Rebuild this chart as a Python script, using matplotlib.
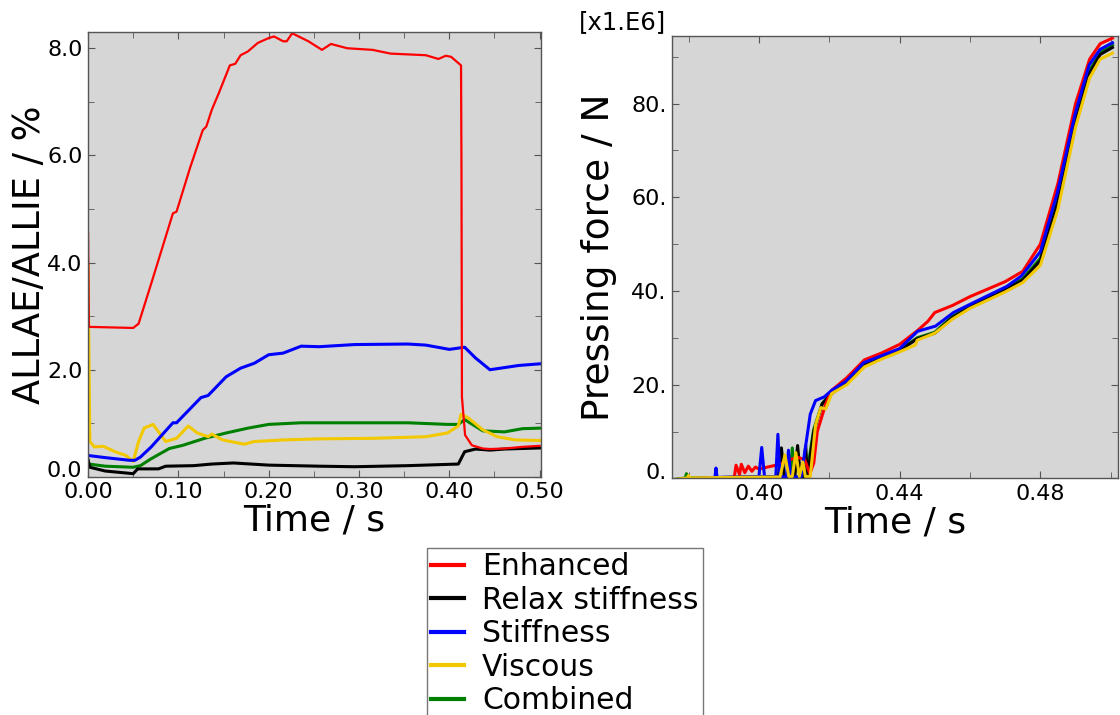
import numpy as np
import matplotlib
matplotlib.use("Agg")
import matplotlib.pyplot as plt
import matplotlib.transforms as mtransforms
from matplotlib.ticker import MultipleLocator, FormatStrFormatter

# ---- left panel: ALLAE/ALLIE (%) vs time ----
enh_t = [0.0, 0.001, 0.05, 0.056, 0.07, 0.094, 0.098, 0.113, 0.127, 0.131, 0.137, 0.145,
         0.157, 0.163, 0.169, 0.177, 0.188, 0.200, 0.206, 0.216, 0.220, 0.226, 0.244, 0.259,
         0.269, 0.287, 0.315, 0.335, 0.374, 0.388, 0.396, 0.402, 0.413, 0.4135, 0.414, 0.4175,
         0.425, 0.437, 0.445, 0.461, 0.481, 0.50]
enh_v = [4.55, 2.80, 2.78, 2.86, 3.61, 4.92, 4.95, 5.77, 6.47, 6.54, 6.85, 7.17,
         7.68, 7.71, 7.87, 7.94, 8.10, 8.19, 8.22, 8.13, 8.13, 8.28, 8.13, 7.97,
         8.08, 8.00, 7.97, 7.90, 7.87, 7.80, 7.86, 7.84, 7.68, 5.70, 1.49, 0.78,
         0.59, 0.53, 0.52, 0.53, 0.56, 0.58]

rel_t = [0.0, 0.002, 0.019, 0.05, 0.055, 0.078, 0.086, 0.117, 0.137, 0.161, 0.20, 0.256,
         0.295, 0.354, 0.41, 0.417, 0.429, 0.445, 0.461, 0.50]
rel_v = [0.32, 0.18, 0.11, 0.06, 0.15, 0.15, 0.20, 0.21, 0.24, 0.26, 0.22, 0.20,
         0.19, 0.21, 0.24, 0.47, 0.52, 0.50, 0.52, 0.54]

stf_t = [0.0, 0.019, 0.046, 0.052, 0.058, 0.07, 0.094, 0.098, 0.125, 0.133, 0.153, 0.169,
         0.184, 0.20, 0.216, 0.236, 0.256, 0.295, 0.354, 0.374, 0.40, 0.417, 0.429, 0.445,
         0.457, 0.477, 0.50]
stf_v = [0.40, 0.36, 0.31, 0.31, 0.37, 0.56, 1.01, 1.01, 1.48, 1.52, 1.87, 2.03,
         2.12, 2.28, 2.31, 2.44, 2.43, 2.47, 2.48, 2.46, 2.38, 2.42, 2.22, 2.00,
         2.03, 2.08, 2.11]

vis_t = [0.0, 0.002, 0.007, 0.017, 0.03, 0.042, 0.05, 0.056, 0.062, 0.072, 0.086, 0.098,
         0.111, 0.121, 0.133, 0.137, 0.149, 0.173, 0.184, 0.216, 0.256, 0.315, 0.374, 0.398,
         0.41, 0.413, 0.421, 0.437, 0.453, 0.473, 0.50]
vis_v = [3.95, 0.66, 0.56, 0.57, 0.47, 0.40, 0.29, 0.66, 0.91, 0.98, 0.66, 0.72,
         0.95, 0.82, 0.75, 0.80, 0.69, 0.61, 0.66, 0.69, 0.71, 0.72, 0.75, 0.82,
         0.95, 1.17, 1.10, 0.88, 0.75, 0.69, 0.68]

com_t = [0.0, 0.001, 0.019, 0.05, 0.058, 0.07, 0.09, 0.105, 0.129, 0.153, 0.177, 0.20,
         0.236, 0.295, 0.354, 0.398, 0.41, 0.417, 0.437, 0.461, 0.481, 0.50]
com_v = [0.30, 0.24, 0.20, 0.18, 0.21, 0.34, 0.53, 0.59, 0.72, 0.82, 0.91, 0.98,
         1.01, 1.01, 1.01, 0.98, 0.98, 1.07, 0.86, 0.84, 0.90, 0.91]

# ---- right panel: pressing force (x1.E6 N) vs time ----
f_enh_t = [0.3755, 0.385, 0.393, 0.3935, 0.3945, 0.395, 0.396, 0.397, 0.398, 0.399, 0.400,
           0.403, 0.406, 0.409, 0.411, 0.413, 0.4145, 0.4156, 0.4166, 0.419, 0.4207, 0.425,
           0.430, 0.435, 0.440, 0.445, 0.448, 0.450, 0.455, 0.460, 0.470, 0.475, 0.480,
           0.485, 0.490, 0.494, 0.497, 0.5005]
f_enh_v = [-0.3, 0.1, 0.2, 2.8, 0.8, 3.0, 1.2, 2.6, 1.5, 2.4, 2.0,
           2.5, 3.0, 4.0, 4.5, 4.0, 1.0, 3.3, 10.0, 15.9, 18.8, 21.5,
           25.3, 26.8, 28.6, 31.5, 33.5, 35.4, 36.9, 38.8, 42.0, 44.2, 50.0,
           63.0, 80.0, 89.5, 92.8, 94.0]

f_rel_t = [0.3755, 0.390, 0.4055, 0.4064, 0.4072, 0.4102, 0.411, 0.4118, 0.4125, 0.4133,
           0.4138, 0.4156, 0.418, 0.4207, 0.425, 0.430, 0.435, 0.440, 0.445, 0.450, 0.455,
           0.460, 0.470, 0.475, 0.480, 0.485, 0.490, 0.494, 0.497, 0.5005]
f_rel_v = [-0.3, 0.2, 0.3, 6.5, 0.3, 0.3, 7.0, 0.3, 0.3, 7.0,
           0.4, 10.0, 15.9, 18.1, 20.5, 24.2, 25.8, 27.3, 29.8, 31.0, 34.3,
           36.6, 40.2, 42.3, 46.5, 59.0, 76.5, 86.5, 90.5, 92.0]

f_stf_t = [0.3755, 0.3875, 0.3878, 0.3881, 0.400, 0.4008, 0.4016, 0.4048, 0.4054, 0.406,
           0.4078, 0.4084, 0.409, 0.412, 0.4146, 0.4161, 0.4186, 0.4207, 0.4247, 0.4298,
           0.4349, 0.440, 0.4451, 0.4502, 0.4553, 0.4604, 0.4705, 0.4746, 0.4766, 0.480,
           0.4848, 0.4899, 0.4939, 0.497, 0.5005]
f_stf_v = [-0.3, 0.2, 2.2, 0.2, 0.3, 6.6, 0.3, 0.3, 9.4, 0.3,
           0.3, 6.0, 0.3, 0.3, 13.7, 16.6, 17.4, 18.8, 20.7, 24.7,
           26.2, 27.7, 31.4, 32.5, 35.4, 37.3, 41.0, 43.2, 45.1, 48.4,
           60.9, 77.9, 88.3, 91.6, 93.0]

f_vis_t = [0.3755, 0.3797, 0.380, 0.3803, 0.406, 0.4074, 0.4085, 0.4095, 0.4105, 0.4115,
           0.4125, 0.4132, 0.4146, 0.4161, 0.4176, 0.419, 0.4207, 0.425, 0.430, 0.435,
           0.440, 0.4445, 0.445, 0.450, 0.455, 0.460, 0.470, 0.475, 0.480, 0.485, 0.490,
           0.494, 0.497, 0.5005]
f_vis_v = [-0.3, 0.1, 0.6, 0.1, 0.3, 5.0, 0.4, 0.4, 5.5, 0.4,
           3.5, 0.4, 0.4, 11.4, 15.1, 14.8, 18.1, 20.0, 23.8, 25.5,
           27.0, 28.5, 29.5, 31.0, 34.0, 36.3, 39.8, 41.8, 45.5, 57.5, 75.0,
           85.5, 89.5, 90.8]

f_com_t = [0.3755, 0.3791, 0.3794, 0.3797, 0.405, 0.4089, 0.4095, 0.4101, 0.4135, 0.4156,
           0.418, 0.4207, 0.425, 0.430, 0.435, 0.440, 0.445, 0.450, 0.455, 0.460, 0.470,
           0.475, 0.480, 0.485, 0.490, 0.494, 0.497, 0.5005]
f_com_v = [-0.3, 0.1, 1.0, 0.1, 0.3, 0.3, 6.5, 0.3, 0.4, 10.5,
           16.0, 18.3, 20.6, 24.3, 25.9, 27.4, 30.0, 31.2, 34.6, 36.8, 40.5,
           42.6, 47.0, 59.5, 77.0, 87.0, 91.0, 92.5]

labels = ["Enhanced", "Relax stiffness", "Stiffness", "Viscous", "Combined"]
colors = ["#ff0000", "#000000", "#0000ff", "#f2c800", "#008000"]

fig = plt.figure(figsize=(11.2, 7.15), dpi=100)
ax1 = fig.add_axes([0.0786, 0.333, 0.4044, 0.622])
ax2 = fig.add_axes([0.600, 0.331, 0.398, 0.619])

left_data = [(enh_t, enh_v), (rel_t, rel_v), (stf_t, stf_v), (vis_t, vis_v), (com_t, com_v)]
right_data = [(f_enh_t, f_enh_v), (f_rel_t, f_rel_v), (f_stf_t, f_stf_v),
              (f_vis_t, f_vis_v), (f_com_t, f_com_v)]

handles = [None] * 5
for i in [4, 1, 3, 2, 0]:
    lw = 1.6 if i == 0 else 2.2
    ax1.plot(left_data[i][0], left_data[i][1], color=colors[i], lw=lw)
for i in [4, 1, 0, 2, 3]:
    h, = ax2.plot(right_data[i][0], right_data[i][1], color=colors[i], lw=2.2)
    handles[i] = h

for ax in (ax1, ax2):
    ax.set_facecolor("#d6d6d6")
    for s in ax.spines.values():
        s.set_color("#555555")
        s.set_linewidth(1.0)
    ax.tick_params(which="both", direction="in", top=True, right=True,
                   color="#555555", labelsize=16, pad=4)
    ax.tick_params(which="major", length=5)
    ax.tick_params(which="minor", length=4)

ax1.set_xlim(0, 0.5015)
ax1.set_ylim(0, 8.3)
ax1.xaxis.set_major_locator(MultipleLocator(0.1))
ax1.xaxis.set_minor_locator(MultipleLocator(0.05))
ax1.set_yticks([0, 2, 4, 6, 8])
ax1.yaxis.set_minor_locator(MultipleLocator(1.0))
ax1.xaxis.set_major_formatter(FormatStrFormatter("%.2f"))
ax1.yaxis.set_major_formatter(FormatStrFormatter("%.1f"))
ax1.set_xlabel("Time / s", fontsize=26, labelpad=1)
ax1.set_ylabel("ALLAE/ALLIE / %", fontsize=26.5, labelpad=-1)

ax2.set_xlim(0.3753, 0.502)
ax2.set_ylim(0, 94.5)
ax2.xaxis.set_major_locator(MultipleLocator(0.04))
ax2.xaxis.set_minor_locator(MultipleLocator(0.02))
ax2.set_yticks([0, 20, 40, 60, 80])
ax2.yaxis.set_minor_locator(MultipleLocator(10))
ax2.xaxis.set_major_formatter(FormatStrFormatter("%.2f"))
ax2.yaxis.set_major_formatter(FormatStrFormatter("%.0f."))
ax2.set_xlabel("Time / s", fontsize=26, labelpad=1)
ax2.set_ylabel("Pressing force / N", fontsize=27, labelpad=10)
fig.text(0.556, 0.969, "[x1.E6]", fontsize=17.5, ha="center", va="center")

# the bottom y tick label sits a little above its tick in the original
shift = mtransforms.ScaledTranslation(0, 5.5 / 72, fig.dpi_scale_trans)
for ax in (ax1, ax2):
    lab = ax.yaxis.get_major_ticks()[0].label1
    lab.set_transform(lab.get_transform() + shift)

leg = fig.legend(handles, labels, loc="upper left", bbox_to_anchor=(0.381, 0.234),
                 fontsize=21.5, frameon=True, fancybox=False, handlelength=1.1,
                 handletextpad=0.6, labelspacing=0.15, borderpad=0.15,
                 borderaxespad=0.0)
leg.get_frame().set_edgecolor("#555555")
leg.get_frame().set_linewidth(1.0)
for ln in leg.get_lines():
    ln.set_linewidth(3.0)

fig.savefig("out.png", dpi=100)
